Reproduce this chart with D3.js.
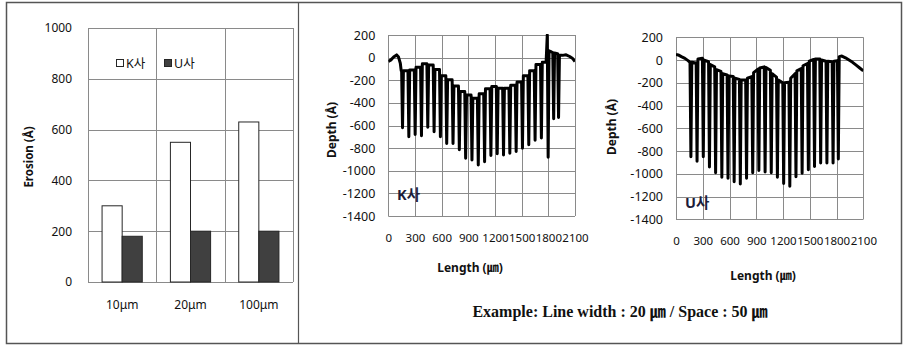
<!DOCTYPE html>
<html>
<head>
<meta charset="utf-8">
<script src="https://cdn.jsdelivr.net/npm/d3@7"></script>
<style>
  body { margin: 0; background: #fff; }
  text { font-family: "Noto Sans", "Noto Sans CJK KR", sans-serif; fill: #111; }
</style>
</head>
<body>
<div id="chart"></div>
<script>
// ---- DATA ----
const sizes = ["10μm", "20μm", "100μm"];
const companies = ["K사", "U사"];
const erosionK = [300, 550, 630];
const erosionU = [180, 200, 200];
const erosionTicks = [0, 200, 400, 600, 800, 1000];

const depthTicks = [-1400, -1200, -1000, -800, -600, -400, -200, 0, 200];
const lengthTicks = [0, 300, 600, 900, 1200, 1500, 1800, 2100];

// [length µm, depth Å]
const profileK = [
  [0, -35], [30, -20], [60, 5], [94, 24], [115, 5], [135, -50], [145, -115],
  [150, -120], [160, -620], [170, -115],
  [221, -115], [231, -700], [241, -110],
  [292, -110], [302, -680], [312, -85],
  [363, -85], [373, -690], [383, -55],
  [434, -55], [444, -615], [454, -65],
  [505, -65], [515, -655], [525, -105],
  [576, -105], [586, -700], [596, -160],
  [647, -160], [657, -760], [667, -195],
  [718, -195], [728, -760], [738, -250],
  [789, -250], [799, -815], [809, -300],
  [860, -300], [870, -890], [880, -330],
  [931, -330], [941, -905], [951, -360],
  [1002, -360], [1012, -950], [1022, -320],
  [1073, -320], [1083, -920], [1093, -275],
  [1144, -275], [1154, -865], [1164, -255],
  [1215, -255], [1225, -850], [1235, -270],
  [1286, -270], [1296, -860], [1306, -270],
  [1357, -270], [1367, -845], [1377, -245],
  [1428, -245], [1438, -830], [1448, -215],
  [1499, -215], [1509, -800], [1519, -160],
  [1570, -160], [1580, -770], [1590, -115],
  [1641, -115], [1651, -730], [1661, -60],
  [1712, -60], [1722, -710], [1732, -40],
  [1775, -40], [1788, 200], [1798, -880], [1808, 60],
  [1835, 50], [1850, 45], [1860, -540], [1870, 40],
  [1905, 35], [1915, -530], [1925, 20],
  [1960, 20], [2000, 25], [2040, 10], [2070, -5], [2100, -35]
];

// [length µm, depth Å]
const profileU = [
  [0, 50], [25, 45], [60, 30], [100, 15], [135, -5], [150, -15],
  [157, -20], [167, -850], [177, -20],
  [226, -25], [236, -890], [246, 10],
  [296, 15], [306, -850], [316, 0],
  [365, -15], [375, -940], [385, -40],
  [434, -60], [444, -990], [454, -85],
  [504, -100], [514, -1030], [524, -120],
  [573, -130], [583, -1040], [593, -140],
  [642, -145], [652, -1070], [662, -160],
  [711, -170], [721, -1090], [731, -175],
  [781, -175], [791, -1040], [801, -160],
  [850, -145], [860, -990], [870, -110],
  [919, -80], [929, -970], [939, -70],
  [989, -60], [999, -985], [1009, -65],
  [1058, -90], [1068, -990], [1078, -120],
  [1127, -150], [1137, -1030], [1147, -175],
  [1197, -200], [1207, -1085], [1217, -200],
  [1266, -195], [1276, -1110], [1286, -160],
  [1335, -120], [1345, -1025], [1355, -95],
  [1404, -75], [1414, -995], [1424, -50],
  [1474, -30], [1484, -965], [1494, -10],
  [1543, 5], [1553, -935], [1563, 10],
  [1612, 10], [1622, -905], [1632, 0],
  [1682, -10], [1692, -905], [1702, -10],
  [1751, -15], [1761, -905], [1771, -10],
  [1810, -5], [1820, -870], [1830, 30],
  [1860, 35], [1900, 20], [1940, 0], [1980, -20], [2020, -45], [2060, -70], [2100, -95]
];

const caption = "Example: Line width : 20 ㎛ / Space : 50 ㎛";

// ---- SVG ----
const width = 903;
const height = 347;
const gridColor = "#8a8a8a";
const plainFormat = (d) => String(d);

const svg = d3.select("#chart")
  .append("svg")
  .attr("width", width)
  .attr("height", height);

// outer frame + divider
svg.append("rect")
  .attr("x", 6.5).attr("y", 2.5)
  .attr("width", 895).attr("height", 341)
  .attr("fill", "none").attr("stroke", "#555").attr("stroke-width", 1.5);
svg.append("line")
  .attr("x1", 298.5).attr("x2", 298.5).attr("y1", 2.5).attr("y2", 343.5)
  .attr("stroke", "#555").attr("stroke-width", 1.2);

// ---- BAR CHART ----
const bx = d3.scaleBand().domain(sizes).range([88, 293]);
const bsub = d3.scaleBand().domain(companies).range([0, bx.bandwidth()])
  .paddingInner(0).paddingOuter(0.7);
const by = d3.scaleLinear().domain([0, 1000]).range([282, 28]);

const bar = svg.append("g");
bar.selectAll(".hgrid").data(erosionTicks).join("line")
  .attr("x1", 88).attr("x2", 293)
  .attr("y1", (d) => Math.round(by(d)) + 0.5)
  .attr("y2", (d) => Math.round(by(d)) + 0.5)
  .attr("stroke", gridColor);
bar.selectAll(".vgrid").data([...sizes, null]).join("line")
  .attr("x1", (d) => Math.round(d ? bx(d) : 293) + 0.5)
  .attr("x2", (d) => Math.round(d ? bx(d) : 293) + 0.5)
  .attr("y1", by(1000)).attr("y2", by(0))
  .attr("stroke", gridColor);

const barData = sizes.flatMap((s, i) => [
  { size: s, co: "K사", v: erosionK[i] },
  { size: s, co: "U사", v: erosionU[i] },
]);
bar.selectAll("rect.bar").data(barData).join("rect")
  .attr("class", "bar")
  .attr("x", (d) => bx(d.size) + bsub(d.co))
  .attr("y", (d) => by(d.v))
  .attr("width", bsub.bandwidth())
  .attr("height", (d) => by(0) - by(d.v))
  .attr("fill", (d) => (d.co === "K사" ? "#fff" : "#404040"))
  .attr("stroke", "#262626")
  .attr("stroke-width", 1);

bar.append("g")
  .attr("transform", "translate(88,0)")
  .call(d3.axisLeft(by).tickValues(erosionTicks).tickFormat(plainFormat).tickSize(0).tickPadding(16))
  .call((g) => g.select(".domain").remove())
  .selectAll("text")
  .attr("font-size", 12).attr("font-family", null);

bar.append("g")
  .attr("transform", "translate(0,282)")
  .call(d3.axisBottom(bx).tickSize(0).tickPadding(18))
  .call((g) => g.select(".domain").remove())
  .selectAll("text")
  .attr("font-size", 12).attr("font-family", null);

bar.append("text")
  .attr("transform", "translate(33,157) rotate(-90)")
  .attr("text-anchor", "middle")
  .attr("font-size", 11.5).attr("font-weight", "bold")
  .text("Erosion (Å)");

// legend
const legend = bar.append("g");
companies.forEach((c, i) => {
  const lx = 116 + i * 48;
  legend.append("rect")
    .attr("x", lx + 0.5).attr("y", 59.5).attr("width", 7).attr("height", 7)
    .attr("fill", i === 0 ? "#fff" : "#404040")
    .attr("stroke", "#262626");
  legend.append("text")
    .attr("x", lx + 10).attr("y", 67.5)
    .attr("font-size", 12.5)
    .text(c);
});

// ---- PROFILE CHARTS ----
const drawProfile = (cfg) => {
  const x = d3.scaleLinear().domain([0, 2100]).range([cfg.left, cfg.right]);
  const y = d3.scaleLinear().domain([-1400, 200]).range([cfg.bottom, cfg.top]);
  const g = svg.append("g");

  g.selectAll(".h").data(depthTicks).join("line")
    .attr("x1", cfg.left).attr("x2", cfg.right)
    .attr("y1", (d) => Math.round(y(d)) + 0.5)
    .attr("y2", (d) => Math.round(y(d)) + 0.5)
    .attr("stroke", gridColor);
  g.selectAll(".v").data(lengthTicks).join("line")
    .attr("x1", (d) => Math.round(x(d)) + 0.5)
    .attr("x2", (d) => Math.round(x(d)) + 0.5)
    .attr("y1", cfg.top).attr("y2", cfg.bottom)
    .attr("stroke", gridColor);

  g.append("clipPath").attr("id", cfg.id)
    .append("rect")
    .attr("x", cfg.left).attr("y", cfg.top - 1)
    .attr("width", cfg.right - cfg.left).attr("height", cfg.bottom - cfg.top + 1);

  const line = d3.line().x((d) => x(d[0])).y((d) => y(d[1]));
  g.append("path")
    .datum(cfg.data)
    .attr("clip-path", `url(#${cfg.id})`)
    .attr("d", line)
    .attr("fill", "none")
    .attr("stroke", "#000")
    .attr("stroke-width", 3)
    .attr("stroke-linejoin", "round");

  g.append("g")
    .attr("transform", `translate(${cfg.left},0)`)
    .call(d3.axisLeft(y).tickValues(depthTicks).tickFormat(plainFormat).tickSize(0).tickPadding(13))
    .call((a) => a.select(".domain").remove())
    .selectAll("text")
    .attr("font-size", 12.5).attr("font-family", null);

  g.append("g")
    .attr("transform", `translate(0,${cfg.bottom})`)
    .call(d3.axisBottom(x).tickValues(lengthTicks).tickFormat(plainFormat).tickSize(0).tickPadding(cfg.xPad))
    .call((a) => a.select(".domain").remove())
    .selectAll("text")
    .attr("font-size", 11.5).attr("font-family", null);

  g.append("text")
    .attr("transform", `translate(${cfg.yTitleX},${cfg.yTitleY}) rotate(-90)`)
    .attr("text-anchor", "middle")
    .attr("font-size", 12).attr("font-weight", "bold")
    .text("Depth (Å)");

  g.append("text")
    .attr("x", cfg.xTitleX).attr("y", cfg.xTitleY)
    .attr("text-anchor", "middle")
    .attr("font-size", 12).attr("font-weight", "bold")
    .text("Length (㎛)");

  g.append("text")
    .attr("x", cfg.labelX).attr("y", cfg.labelY)
    .attr("font-size", 14.5).attr("font-weight", "bold")
    .style("fill", "#1c1c3a")
    .text(cfg.label);
};

drawProfile({
  id: "clipK", data: profileK, label: "K사",
  left: 388.3, right: 575, top: 35, bottom: 216, xPad: 18,
  yTitleX: 336, yTitleY: 130, xTitleX: 470, xTitleY: 272,
  labelX: 397, labelY: 200,
});
drawProfile({
  id: "clipU", data: profileU, label: "U사",
  left: 676, right: 863.3, top: 37.3, bottom: 219.3, xPad: 18,
  yTitleX: 615.5, yTitleY: 127, xTitleX: 763, xTitleY: 279.5,
  labelX: 685, labelY: 208,
});

// ---- CAPTION ----
svg.append("text")
  .attr("x", 620).attr("y", 316.5)
  .attr("text-anchor", "middle")
  .attr("font-size", 16).attr("font-weight", "bold")
  .style("font-family", "'Liberation Serif', 'Noto Sans CJK KR', serif")
  .text(caption);
</script>
</body>
</html>
